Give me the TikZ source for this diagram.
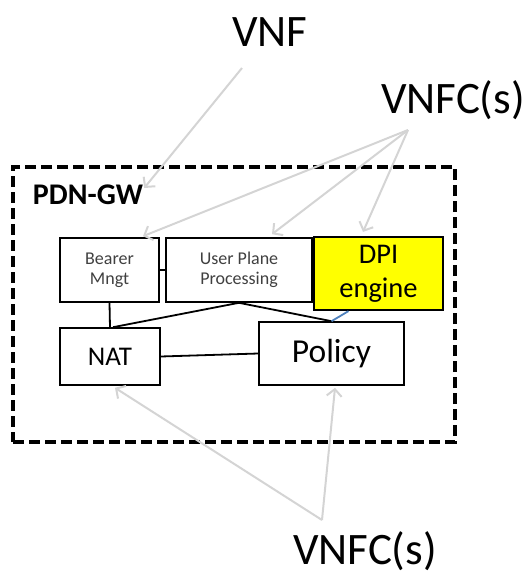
\documentclass[tikz,border=0pt]{standalone}
\usepackage{fontspec}
\setmainfont{Carlito}
\usetikzlibrary{arrows.meta,positioning,calc}
\definecolor{ashgray}{HTML}{D4D4D4}
\definecolor{dpiyellow}{HTML}{FFFF00}
\definecolor{linkblue}{HTML}{4F81BD}
\definecolor{softtext}{HTML}{404040}
\tikzset{fnbox/.style={draw=black,line width=1.6pt,fill=white,align=center,inner sep=0pt},
  bigtext/.style={font=\fontsize{45}{50}\selectfont,inner sep=0pt},
  link/.style={line width=1.8pt,draw=black},
  pointer/.style={-{Straight Barb[length=7pt,width=15pt,line width=2pt]},line width=2pt,draw=ashgray}}
\begin{document}
\begin{tikzpicture}[x=1pt,y=-1pt]
\useasboundingbox (0,0) rectangle (529,579);
% outer PDN-GW frame
\node[draw=black,line width=3.5pt,dash pattern=on 11pt off 5pt,minimum width=442pt,minimum height=275pt,inner sep=0pt] (gw) at (234,304.5){};
\node[font=\bfseries\fontsize{30}{32}\selectfont,inner sep=0pt] (pdn) at (88,195){PDN-GW};
% functional blocks
\node[fnbox,minimum width=99pt,minimum height=64pt,text=softtext,font=\fontsize{18}{20}\selectfont] (bearer) at (109.5,270){Bearer\\Mngt};
\node[fnbox,minimum width=146pt,minimum height=64pt,text=softtext,font=\fontsize{18}{20}\selectfont] (upp) at (239,270){User Plane\\Processing};
\node[fnbox,line width=2.2pt,fill=dpiyellow,minimum width=129pt,minimum height=73pt,font=\fontsize{28.5}{34}\selectfont] (dpi) at (378.5,273.5){DPI\\engine};
\node[fnbox,minimum width=100pt,minimum height=57pt,font=\fontsize{27}{30}\selectfont] (nat) at (110,356.5){NAT};
\node[fnbox,minimum width=145pt,minimum height=63pt,font=\fontsize{33.5}{36}\selectfont] (policy) at (331.5,353.5){Policy};
% links between blocks
\draw[link] (bearer.east) -- (upp.west);
\draw[link] (upp.east) -- (dpi.west);
\draw[link] (bearer.south) -- (nat.north);
\draw[link] (upp.south) -- ([xshift=3pt]nat.north);
\draw[link] (upp.south) -- (policy.north);
\draw[link] (nat.east) -- (policy.west);
\draw[line width=1.8pt,draw=linkblue] ([xshift=-30pt]dpi.south) -- (policy.north);
% labels and pointers
\node[bigtext] (vnf) at (270,32){VNF};
\node[bigtext] (vnfctop) at (453,100){VNFC(s)};
\node[bigtext] (vnfcbot) at (365,551){VNFC(s)};
\coordinate (vnftail) at (242,68);
\coordinate (toptail) at (408,130);
\coordinate (bottail) at (322,520);
\draw[pointer] (vnftail) -- ([xshift=1pt,yshift=7pt]pdn.east);
\foreach \t/\dx/\dy in {bearer/33.5/1,upp/33/3,dpi/-15.5/4}{
  \draw[pointer] (toptail) -- ([xshift=\dx pt,yshift=\dy pt]\t.north);}
\draw[pointer] (bottail) -- ([xshift=5pt,yshift=-2pt]nat.south);
\draw[pointer] (bottail) -- ([xshift=3.5pt,yshift=-2pt]policy.south);
\end{tikzpicture}
\end{document}
